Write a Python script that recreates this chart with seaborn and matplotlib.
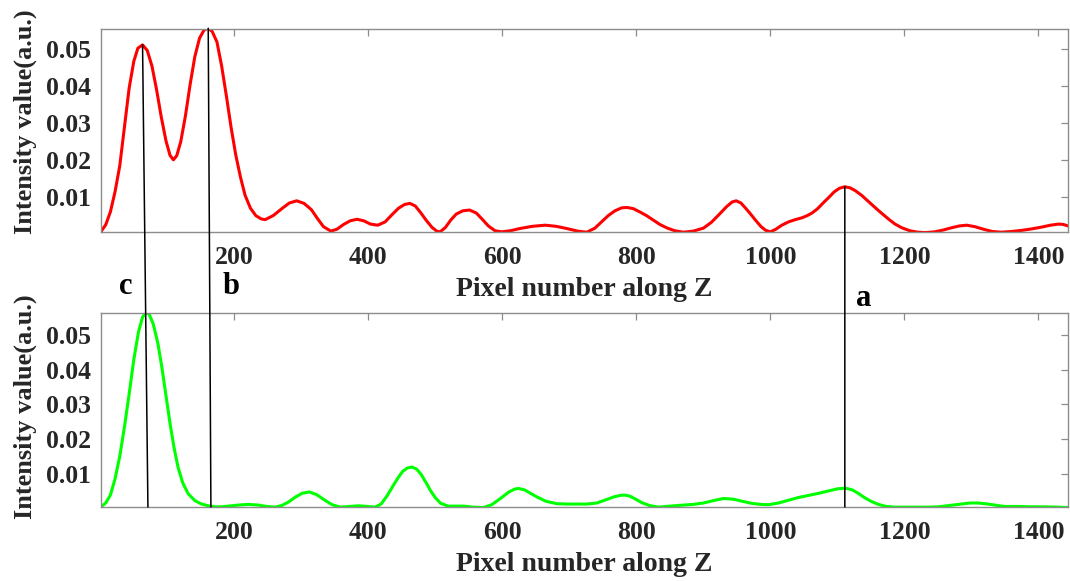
import matplotlib
matplotlib.use("Agg")
import matplotlib.pyplot as plt
import seaborn as sns
from matplotlib.patches import ConnectionPatch

# ---------------- data ----------------
red_x = [1, 8, 15, 22, 29, 36, 43, 50, 56, 63, 70, 77, 84, 91, 98, 104, 109, 114, 120,
         127, 134, 141, 148, 155, 161, 167, 174, 181, 188, 195, 202, 209, 216, 224,
         232, 240, 246, 258, 271, 282, 293, 304, 315, 324, 333, 344, 353, 363, 373,
         383, 393, 403, 414, 425, 435, 445, 454, 462, 470, 478, 486, 495, 502, 507,
         515, 523, 531, 541, 551, 561, 570, 579, 589, 599, 612, 626, 645, 664, 680,
         696, 712, 726, 738, 748, 758, 768, 778, 786, 795, 805, 815, 825, 835, 845,
         857, 870, 885, 900, 912, 925, 935, 943, 949, 956, 963, 970, 978, 986, 993,
         1000, 1008, 1017, 1027, 1037, 1047, 1055, 1062, 1070, 1078, 1087, 1095,
         1103, 1111, 1119, 1127, 1136, 1145, 1153, 1161, 1170, 1178, 1186, 1196,
         1208, 1220, 1231, 1245, 1258, 1270, 1282, 1293, 1305, 1318, 1331, 1345,
         1360, 1375, 1390, 1405, 1418, 1430, 1437, 1444]
red_y = [0.0007, 0.0025, 0.0060, 0.0115, 0.0185, 0.0290, 0.0395, 0.0468, 0.0503,
         0.0512, 0.0497, 0.0455, 0.0390, 0.0316, 0.0252, 0.0213, 0.0201, 0.0212,
         0.0250, 0.0320, 0.0405, 0.0480, 0.0530, 0.0553, 0.0557, 0.0548, 0.0520,
         0.0455, 0.0375, 0.0290, 0.0215, 0.0155, 0.0105, 0.0070, 0.0050, 0.0041,
         0.0039, 0.0050, 0.0069, 0.0084, 0.0090, 0.0083, 0.0066, 0.0042, 0.0020,
         0.0008, 0.0013, 0.0026, 0.0036, 0.0040, 0.0036, 0.0027, 0.0024, 0.0033,
         0.0052, 0.0070, 0.0080, 0.0083, 0.0076, 0.0058, 0.0038, 0.0018, 0.0008,
         0.0006, 0.0018, 0.0038, 0.0054, 0.0063, 0.0065, 0.0057, 0.0040, 0.0022,
         0.0009, 0.0006, 0.0009, 0.0015, 0.0021, 0.0024, 0.0021, 0.0015, 0.0008,
         0.0005, 0.0016, 0.0033, 0.0050, 0.0063, 0.0071, 0.0072, 0.0069, 0.0060,
         0.0050, 0.0038, 0.0026, 0.0017, 0.0009, 0.0005, 0.0008, 0.0016, 0.0032,
         0.0056, 0.0075, 0.0087, 0.0090, 0.0084, 0.0070, 0.0055, 0.0037, 0.0020,
         0.0010, 0.0006, 0.0013, 0.0024, 0.0033, 0.0039, 0.0044, 0.0050, 0.0057,
         0.0068, 0.0083, 0.0099, 0.0114, 0.0124, 0.0128, 0.0125, 0.0117, 0.0105,
         0.0090, 0.0077, 0.0064, 0.0050, 0.0038, 0.0027, 0.0017, 0.0009, 0.0005,
         0.0004, 0.0006, 0.0011, 0.0017, 0.0022, 0.0024, 0.0020, 0.0013, 0.0007,
         0.0005, 0.0007, 0.0010, 0.0014, 0.0019, 0.0024, 0.0027, 0.0026, 0.0022]

green_x = [1, 8, 15, 22, 29, 36, 43, 50, 57, 63, 68, 73, 79, 86, 92, 98, 104, 110, 116,
           123, 131, 141, 151, 161, 171, 181, 191, 206, 221, 236, 248, 261, 271, 281,
           291, 301, 312, 323, 335, 346, 358, 372, 385, 398, 410, 419, 428, 436, 444,
           451, 458, 465, 472, 479, 486, 493, 500, 508, 519, 530, 542, 557, 572, 584,
           597, 609, 618, 624, 633, 642, 651, 665, 681, 696, 711, 726, 741, 754, 767,
           776, 782, 790, 799, 808, 819, 833, 850, 870, 885, 900, 915, 930, 945, 958,
           972, 985, 997, 1012, 1027, 1042, 1057, 1072, 1087, 1100, 1112, 1122, 1131,
           1140, 1150, 1161, 1173, 1186, 1210, 1235, 1251, 1268, 1285, 1298, 1310,
           1325, 1338, 1350, 1370, 1390, 1410, 1428, 1444]
green_y = [0.0004, 0.0015, 0.0038, 0.0085, 0.0150, 0.0235, 0.0330, 0.0430, 0.0510,
           0.0552, 0.0565, 0.0560, 0.0532, 0.0475, 0.0405, 0.0325, 0.0245, 0.0175,
           0.0118, 0.0073, 0.0042, 0.0022, 0.0012, 0.0007, 0.0004, 0.0004, 0.0006,
           0.0009, 0.0011, 0.0009, 0.0005, 0.0003, 0.0008, 0.0018, 0.0032, 0.0043,
           0.0047, 0.0039, 0.0023, 0.0010, 0.0003, 0.0005, 0.0007, 0.0005, 0.0003,
           0.0012, 0.0036, 0.0062, 0.0087, 0.0106, 0.0116, 0.0119, 0.0113, 0.0097,
           0.0074, 0.0050, 0.0030, 0.0014, 0.0006, 0.0006, 0.0006, 0.0003, 0.0002,
           0.0010, 0.0028, 0.0046, 0.0055, 0.0057, 0.0053, 0.0043, 0.0033, 0.0020,
           0.0013, 0.0012, 0.0012, 0.0012, 0.0015, 0.0024, 0.0033, 0.0037, 0.0038,
           0.0035, 0.0026, 0.0016, 0.0008, 0.0003, 0.0006, 0.0009, 0.0011, 0.0015,
           0.0022, 0.0028, 0.0026, 0.0020, 0.0014, 0.0011, 0.0010, 0.0015, 0.0023,
           0.0031, 0.0037, 0.0043, 0.0050, 0.0056, 0.0058, 0.0053, 0.0043, 0.0031,
           0.0020, 0.0011, 0.0005, 0.0003, 0.0003, 0.0003, 0.0004, 0.0008, 0.0012,
           0.0015, 0.0015, 0.0012, 0.0008, 0.0005, 0.0005, 0.0004, 0.0004, 0.0003,
           0.0002]

x_ticks = [200, 400, 600, 800, 1000, 1200, 1400]
x_tick_labels = ["200", "400", "600", "800", "1000", "1200", "1400"]
y_ticks = [0.01, 0.02, 0.03, 0.04, 0.05]
y_tick_labels = ["0.01", "0.02", "0.03", "0.04", "0.05"]

x_range = [1, 1444]
top_y_range = [0.00056, 0.0555]
bottom_y_range = [0.00035, 0.0564]

# guide lines: peak in top plot -> point on bottom x-axis
guide_labels = ["c", "b", "a"]
guide_top_x = [63, 161, 1111]
guide_top_y = [0.0512, 0.0557, 0.0128]
guide_bottom_x = [71, 165, 1111]

x_label = "Pixel number along Z"
y_label = "Intensity value(a.u.)"

# ---------------- styling ----------------
sns.set_theme(style="white")
plt.rcParams["font.family"] = ["Liberation Serif", "DejaVu Serif"]
plt.rcParams["font.weight"] = "bold"
plt.rcParams["axes.labelweight"] = "bold"

spine_col = "#8c8c8c"
fig = plt.figure(figsize=(10.7, 5.81), dpi=100)
ax1 = fig.add_axes([0.0944, 0.6007, 0.9037, 0.3494])
ax2 = fig.add_axes([0.0944, 0.1274, 0.9037, 0.3339])

sns.lineplot(x=red_x, y=red_y, ax=ax1, color="#ff0000", linewidth=2.2,
             estimator=None, sort=False)
sns.lineplot(x=green_x, y=green_y, ax=ax2, color="#00ff00", linewidth=2.2,
             estimator=None, sort=False)

for ax, yr, ylc in [(ax1, top_y_range, 0.545), (ax2, bottom_y_range, 0.515)]:
    ax.set_xlim(*x_range)
    ax.set_ylim(*yr)
    ax.set_xticks(x_ticks)
    ax.set_xticklabels(x_tick_labels, fontweight="bold")
    ax.set_yticks(y_ticks)
    ax.set_yticklabels(y_tick_labels, fontweight="bold")
    ax.tick_params(axis="both", direction="in", length=5, width=0.9,
                   color=spine_col, top=True, right=True, labelsize=18.5,
                   labelcolor="#262626")
    ax.tick_params(axis="x", pad=10)
    ax.tick_params(axis="y", pad=7)
    for s in ax.spines.values():
        s.set_visible(True)
        s.set_color(spine_col)
        s.set_linewidth(1.0)
    ax.set_xlabel(x_label, fontsize=20, fontweight="bold", color="#262626",
                  labelpad=5.5)
    ax.set_ylabel(y_label, fontsize=19, fontweight="bold", color="#262626")
    ax.yaxis.set_label_coords(-0.066, ylc)
    ax.grid(False)

for xt, yt, xb in zip(guide_top_x, guide_top_y, guide_bottom_x):
    con = ConnectionPatch(xyA=(xt, yt), coordsA=ax1.transData,
                          xyB=(xb, bottom_y_range[0]), coordsB=ax2.transData,
                          color="black", linewidth=1.1)
    fig.add_artist(con)

# letter labels near the guide lines (figure fractions)
label_pos = [(126 / 1070, 1 - 294 / 581), (231 / 1070, 1 - 294 / 581),
             (864 / 1070, 1 - 306 / 581)]
for lab, (fx, fy) in zip(guide_labels, label_pos):
    fig.text(fx, fy, lab, fontsize=22, fontweight="bold", color="black",
             ha="center", va="baseline")

fig.savefig("out.png", dpi=100)
